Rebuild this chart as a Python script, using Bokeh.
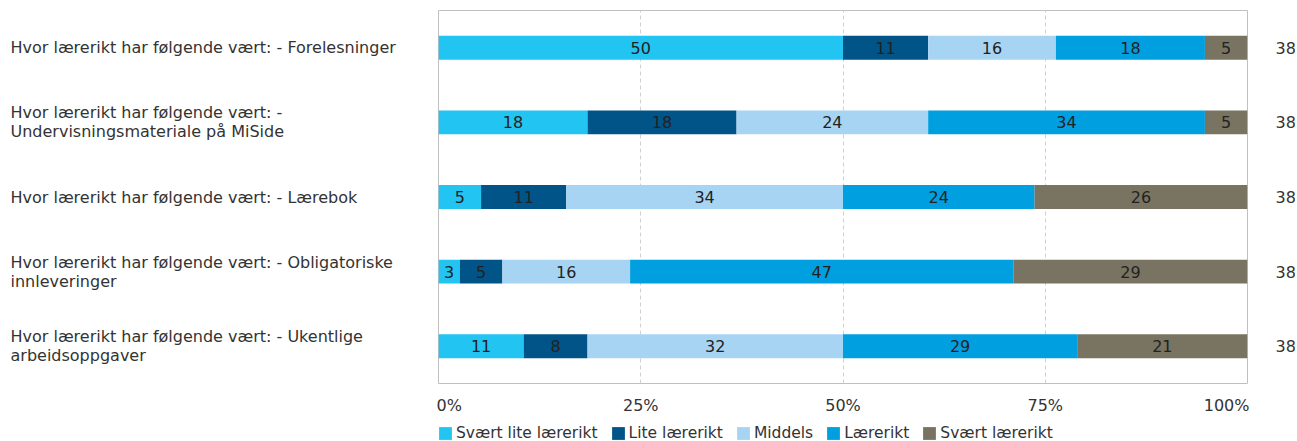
from bokeh.plotting import figure
from bokeh.models import Range1d, FactorRange, ColumnDataSource, Legend, LegendItem, FixedTicker
from bokeh.layouts import row, column
from bokeh.core.properties import value
from bokeh.embed import file_html
from bokeh.resources import INLINE

# ---- data ----
categories = ["Forelesninger", "Undervisningsmateriale", "Lærebok", "Obligatoriske", "Ukentlige"]
row_labels = [
    "Hvor lærerikt har følgende vært: - Forelesninger",
    "Hvor lærerikt har følgende vært: -\nUndervisningsmateriale på MiSide",
    "Hvor lærerikt har følgende vært: - Lærebok",
    "Hvor lærerikt har følgende vært: - Obligatoriske\ninnleveringer",
    "Hvor lærerikt har følgende vært: - Ukentlige\narbeidsoppgaver",
]
series = ["Svært lite lærerikt", "Lite lærerikt", "Middels", "Lærerikt", "Svært lærerikt"]
colors = ["#22c4f2", "#005487", "#a8d4f4", "#009fe0", "#787461"]
# answer counts per category (n = 38 each)
svaert_lite = [19, 7, 2, 1, 4]
lite = [4, 7, 4, 2, 3]
middels = [6, 9, 13, 6, 12]
laererikt = [7, 13, 9, 18, 11]
svaert = [2, 2, 10, 11, 8]
totals = [38, 38, 38, 38, 38]
ticks = [0, 25, 50, 75, 100]
tick_labels = ["0%", "25%", "50%", "75%", "100%"]

FONT = "DejaVu Sans"
FS = "16px"
TXT = "#333333"

counts = [svaert_lite, lite, middels, laererikt, svaert]
keys = ["s%d" % i for i in range(len(series))]
data = {"cat": categories}
for k, c in zip(keys, counts):
    data[k] = [v / t * 100 for v, t in zip(c, totals)]
src = ColumnDataSource(data)

# segment label positions
lx, ly, lt = [], [], []
for j, cat in enumerate(categories):
    left = 0.0
    for i, k in enumerate(keys):
        w = data[k][j]
        lx.append(left + w / 2)
        ly.append(cat)
        lt.append(str(int(round(w))))
        left += w
lab_src = ColumnDataSource(dict(x=lx, y=ly, text=lt))

yr = FactorRange(factors=list(reversed(categories)), range_padding=0)

FH = 373
TOP = 10


def bare(fig):
    fig.axis.visible = False
    fig.grid.visible = False
    fig.outline_line_color = None


# ---- left labels figure ----
pl = figure(frame_width=436, frame_height=FH, x_range=Range1d(0, 1), y_range=yr,
            output_backend="svg", toolbar_location=None,
            min_border_left=0, min_border_right=0, min_border_top=TOP, min_border_bottom=0)
bare(pl)
pl.text(x=[0] * len(categories), y=categories, text=row_labels, x_offset=10,
        text_align="left", text_baseline="middle", text_font=value(FONT),
        text_font_size=FS, text_color=TXT, text_line_height=1.0)

# ---- main chart ----
p = figure(frame_width=809, frame_height=FH, x_range=Range1d(0, 100), y_range=yr,
           output_backend="svg", toolbar_location=None,
           min_border_left=2, min_border_right=2, min_border_top=TOP, min_border_bottom=0)
rs = p.hbar_stack(keys, y="cat", height=0.32, color=colors, line_color=None, source=src)
p.text(x="x", y="y", text="text", source=lab_src, text_align="center", text_baseline="middle",
       text_font=value(FONT), text_font_size=FS, text_color="#222222")

p.yaxis.visible = False
p.ygrid.visible = False
p.xaxis.axis_label = None
p.xaxis.ticker = FixedTicker(ticks=ticks)
p.xaxis.major_label_overrides = {t: l for t, l in zip(ticks, tick_labels)}
p.xaxis.axis_line_color = None
p.xaxis.major_tick_line_color = None
p.xaxis.major_tick_out = 0
p.xaxis.major_tick_in = 0
p.xaxis.minor_tick_line_color = None
p.xaxis.minor_tick_out = 0
p.xaxis.major_label_standoff = 12
p.xaxis.major_label_text_font = FONT
p.xaxis.major_label_text_font_size = FS
p.xaxis.major_label_text_color = TXT
p.xgrid.ticker = FixedTicker(ticks=[25, 50, 75])
p.xgrid.grid_line_color = "#d0d0d0"
p.xgrid.grid_line_dash = "4 3"
p.outline_line_color = "#c0c0c0"
p.outline_line_width = 1

# ---- right totals figure ----
pr = figure(frame_width=46, frame_height=FH, x_range=Range1d(0, 1), y_range=yr,
            output_backend="svg", toolbar_location=None,
            min_border_left=0, min_border_right=0, min_border_top=TOP, min_border_bottom=0)
bare(pr)
pr.text(x=[0] * len(categories), y=categories, text=[str(t) for t in totals], x_offset=26,
        text_align="left", text_baseline="middle", text_font=value(FONT),
        text_font_size=FS, text_color=TXT)

# ---- legend strip (zero-width proxy bars carry the legend swatches) ----
lf = figure(frame_width=865, frame_height=27, x_range=Range1d(0, 1), y_range=Range1d(0, 1),
            output_backend="svg", toolbar_location=None,
            min_border_left=430, min_border_right=0, min_border_top=0, min_border_bottom=0)
bare(lf)
leg_rs = [lf.hbar(y=[0.5], left=[0], right=[0], height=0.5, color=c, line_color=None)
          for c in colors]
legend = Legend(items=[LegendItem(label=s, renderers=[r]) for s, r in zip(series, leg_rs)],
                orientation="horizontal", location="top_left", margin=7, padding=0,
                spacing=12, label_standoff=3, glyph_width=16, glyph_height=16,
                label_height=13, border_line_color=None, background_fill_alpha=0,
                label_text_font=FONT, label_text_font_size="15.5px", label_text_color=TXT)
lf.add_layout(legend, "center")

layout = column(row(pl, p, pr), lf)
open("out.html", "w").write(file_html(layout, INLINE))
